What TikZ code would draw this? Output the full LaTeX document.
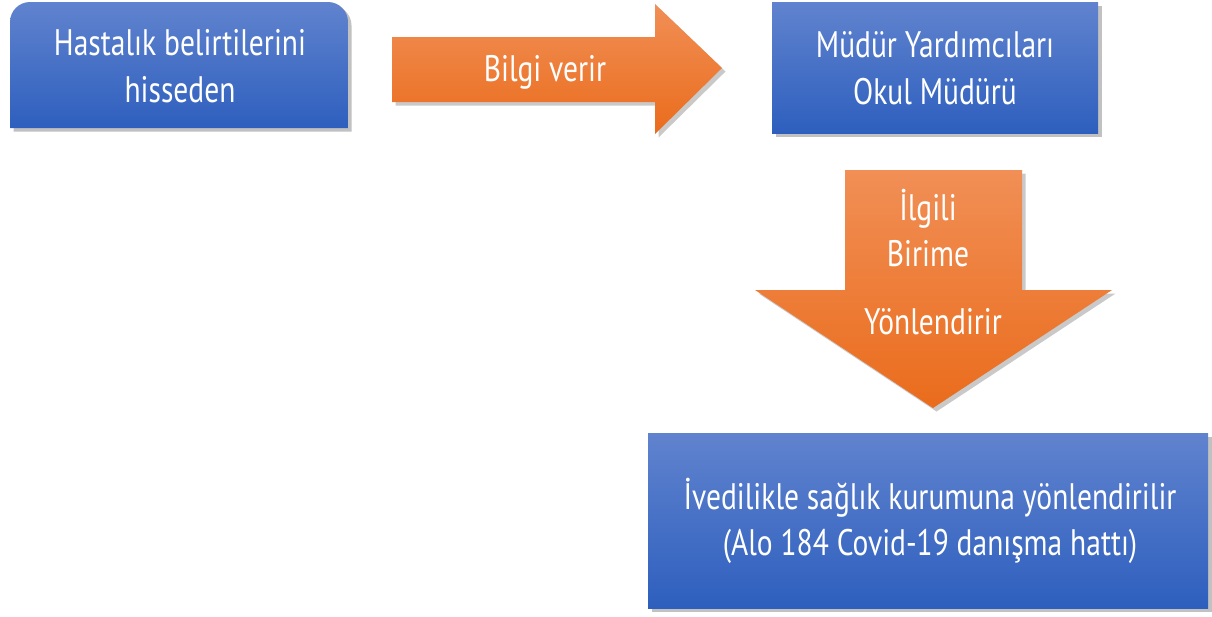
\documentclass[tikz,border=0pt]{standalone}
\usepackage{fontspec}
\setmainfont{PT Sans}[FakeStretch=0.8]
\usepackage{tikz}
\usetikzlibrary{shadows}

\definecolor{bluetop}{RGB}{96,131,206}
\definecolor{bluebot}{RGB}{46,95,190}
\definecolor{orangetop}{RGB}{241,143,86}
\definecolor{orangebot}{RGB}{234,108,28}

\tikzset{
  bluebox/.style={top color=bluetop,bottom color=bluebot,
    drop shadow={shadow xshift=2pt,shadow yshift=-2pt,opacity=0.35,fill=black!70}},
  orangearrow/.style={top color=orangetop,bottom color=orangebot,
    drop shadow={shadow xshift=2pt,shadow yshift=-2pt,opacity=0.3,fill=black!70}},
  lbl/.style={text=white,align=center,font=\fontsize{21}{26.6}\selectfont,inner sep=0pt}
}

\begin{document}
\begin{tikzpicture}[x=0.02cm,y=0.02cm]
\useasboundingbox (0,0) rectangle (1212,-616);
% boxes
\path[bluebox] (10,-128) -- (10,-22) arc[start angle=180,end angle=90,radius=20]
  -- (328,-2) arc[start angle=90,end angle=0,radius=20] -- (348,-128) -- cycle;
\path[bluebox] (772,-2) rectangle (1098,-133);
\path[bluebox] (648,-433) rectangle (1208,-608);
% arrows
\path[orangearrow] (392,-37) -- (655,-37) -- (655,-4) -- (722,-68) -- (655,-134)
  -- (655,-102) -- (392,-102) -- cycle;
\path[orangearrow] (845,-170) -- (1022,-170) -- (1022,-290) -- (1112,-290)
  -- (933,-408) -- (755,-290) -- (845,-290) -- cycle;
% texts
\node[lbl] (hasta) at (180,-66) {Hastalık belirtilerini\\hisseden};
\node[lbl] (bilgi) at (545,-72) {Bilgi verir};
\node[lbl] (mudur) at (935,-68) {Müdür Yardımcıları\\Okul Müdürü};
\node[lbl] (birim) at (928,-228) {İlgili\\Birime};
\node[lbl] (yonlen) at (933,-322) {Yönlendirir};
\node[lbl] (saglik) at (930,-521) {İvedilikle sağlık kurumuna yönlendirilir\\(Alo 184 Covid-19 danışma hattı)};
\end{tikzpicture}
\end{document}
